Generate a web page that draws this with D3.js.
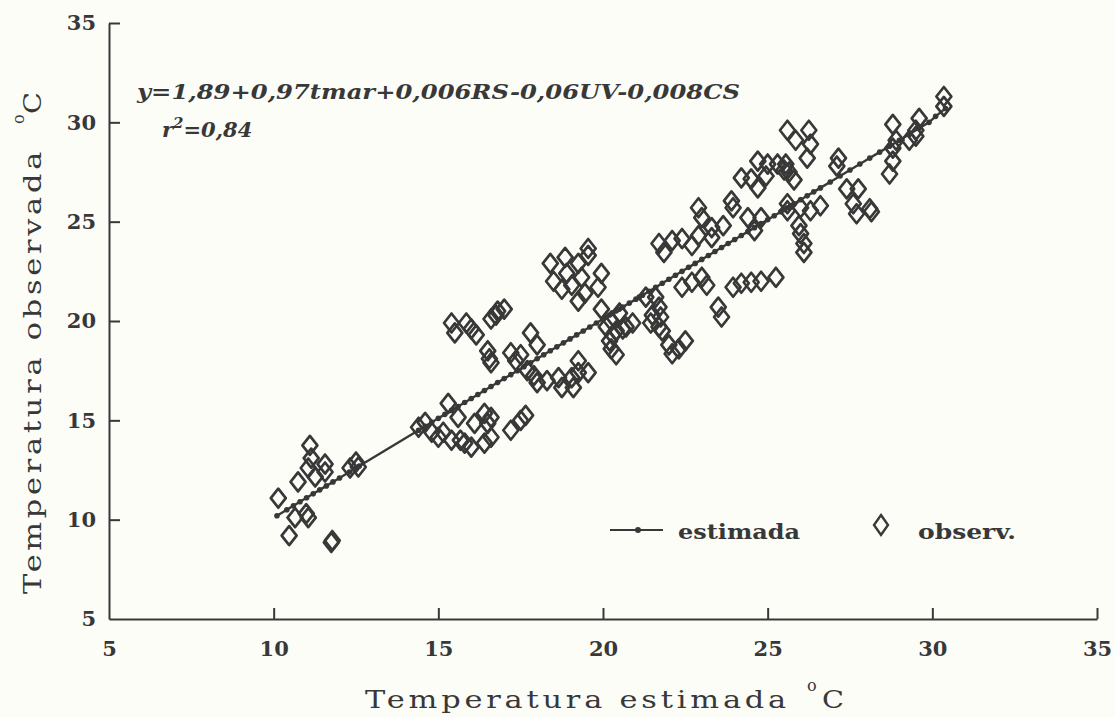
<!DOCTYPE html>
<html><head><meta charset="utf-8">
<script src="https://cdn.jsdelivr.net/npm/d3@7"></script>
<style>
html,body{margin:0;padding:0;background:#fdfdf8;}
svg{display:block;}
text{fill:#383838;}
</style></head>
<body>
<svg id="chart" width="1115" height="717"></svg>
<script>
const xTicks = [5,10,15,20,25,30,35];
const yTicks = [5,10,15,20,25,30,35];
const xTitle = "Temperatura estimada";
const yTitle = "Temperatura observada";
const equation = "y=1,89+0,97tmar+0,006RS-0,06UV-0,008CS";
const r2Label = "=0,84";
const legendLabels = ["estimada","observ."];

// observed points (x = estimated, y = observed)
const obsX = [11.1,11.14,11.05,11.26,11.56,11.56,10.74,10.14,10.65,10.99,11.05,10.47,11.75,11.78,12.32,12.5,12.57,
14.4,14.6,14.8,15.0,15.15,15.3,15.6,15.4,15.67,15.8,16.0,16.1,16.4,16.5,16.6,16.4,16.6,17.2,17.5,17.65,
15.4,15.5,15.85,16.0,16.15,16.6,16.75,16.5,16.55,16.6,16.8,17.0,17.2,17.35,17.5,17.8,18.0,17.7,17.9,18.0,18.3,18.65,18.75,19.05,19.25,19.25,19.55,19.1,
18.4,18.5,18.85,18.9,19.05,18.75,19.25,19.35,19.55,19.55,19.45,19.25,19.85,19.95,19.95,
20.25,20.1,20.4,20.7,20.9,20.5,20.2,20.25,20.4,20.3,20.6,
21.3,21.6,21.7,21.5,21.75,21.45,21.7,21.8,22.0,22.1,22.3,22.5,22.4,22.7,23.0,23.15,21.7,21.85,22.1,22.4,22.7,22.9,23.3,23.5,23.6,23.95,24.2,24.5,24.8,25.25,
22.9,23.0,23.3,23.65,23.9,23.95,24.2,24.5,24.7,24.7,24.95,25.0,25.3,25.55,25.5,25.65,25.6,25.85,26.25,26.3,26.2,25.8,24.4,24.6,24.8,25.6,25.6,26.0,26.3,26.6,25.95,26.0,26.1,26.1,
27.15,27.1,27.4,27.75,27.6,27.7,28.1,28.15,28.8,28.9,28.8,28.7,29.3,29.5,29.6,29.5,28.8,30.35,30.35];
const obsY = [13.74,13.1,12.6,12.15,12.8,12.4,11.9,11.08,10.1,10.3,10.1,9.2,8.85,8.95,12.6,12.9,12.65,
14.65,14.9,14.4,14.15,14.4,15.85,15.15,14.0,14.0,13.85,13.65,14.85,15.35,14.85,15.15,13.85,14.15,14.5,15.0,15.25,
19.9,19.4,19.9,19.6,19.3,20.1,20.3,18.5,18.1,17.9,20.5,20.6,18.4,18.0,18.3,19.4,18.8,17.5,17.25,16.9,17.0,17.15,16.65,17.15,17.4,18.0,17.4,16.65,
22.9,22.0,23.2,22.4,21.8,21.6,22.9,22.2,23.65,23.3,21.4,21.0,21.7,22.4,20.6,
20.0,19.7,19.5,19.7,19.9,20.4,19.0,18.6,18.3,19.3,19.6,
21.2,21.2,20.7,20.3,20.2,19.9,19.7,19.5,18.8,18.35,18.6,19.0,21.7,21.95,22.2,21.8,23.9,23.45,24.05,24.15,23.8,24.3,24.2,20.7,20.2,21.7,21.9,21.95,22.0,22.2,
25.7,25.2,24.7,24.8,26.05,25.7,27.2,27.15,26.7,28.05,27.3,27.9,27.9,27.9,27.6,27.5,29.6,29.1,29.6,28.9,28.2,27.1,25.2,24.55,25.2,25.9,25.55,25.7,25.55,25.8,24.8,24.4,23.9,23.45,
28.2,27.8,26.65,26.65,25.9,25.4,25.65,25.5,29.9,29.1,28.05,27.4,29.1,29.6,30.2,29.3,28.7,31.3,30.8];

// estimated (model) points
const estX = [10.1,10.4,10.6,10.8,11.0,11.2,11.4,11.6,11.8,12.0,12.3,12.5,12.6,14.4,14.6,14.8,15.0,15.2,15.4,15.6,15.8,16.0,16.2,16.4,16.6,16.8,17.0,17.2,17.4,17.6,17.8,18.0,18.2,18.4,18.6,18.8,19.0,19.2,19.4,19.6,19.8,20.0,20.1,20.2,20.3,20.4,20.5,20.6,20.8,21.0,21.1,21.2,21.4,21.6,21.8,22.0,22.2,22.4,22.6,22.8,23.0,23.2,23.4,23.6,23.8,24.0,24.2,24.4,24.6,24.8,25.0,25.2,25.4,25.5,25.6,25.7,25.8,26.0,26.2,26.4,26.6,26.9,27.2,27.5,27.8,28.1,28.4,28.7,29.0,29.3,29.6,29.9,30.1,30.4];
const estY = [10.2,10.5,10.7,10.9,11.1,11.3,11.5,11.7,11.9,12.1,12.4,12.6,12.7,14.5,14.7,14.9,15.1,15.3,15.5,15.7,15.9,16.1,16.3,16.5,16.7,16.9,17.1,17.3,17.5,17.7,17.9,18.1,18.3,18.5,18.7,18.9,19.1,19.3,19.5,19.7,19.9,20.1,20.2,20.3,20.4,20.5,20.6,20.7,20.9,21.1,21.2,21.3,21.5,21.7,21.9,22.1,22.3,22.5,22.7,22.9,23.1,23.3,23.5,23.7,23.9,24.1,24.3,24.5,24.7,24.9,25.1,25.3,25.5,25.6,25.7,25.8,25.9,26.1,26.3,26.5,26.7,27.0,27.3,27.6,27.9,28.2,28.5,28.8,29.1,29.4,29.7,30.0,30.3,30.7];

const svg = d3.select("#chart");
const ink = "#383838";
const serif = "'DejaVu Serif', serif";
const x = d3.scaleLinear().domain([5,35]).range([109,1097]);
const y = d3.scaleLinear().domain([5,35]).range([619,23]);

// axes
const xAxis = d3.axisBottom(x).tickValues(xTicks).tickSizeInner(-11).tickSizeOuter(0).tickPadding(22).tickFormat(d3.format("d"));
const gx = svg.append("g").attr("transform","translate(0,"+y(5)+")").call(xAxis);
const yAxis = d3.axisLeft(y).tickValues(yTicks.slice(1)).tickSizeInner(-11).tickSizeOuter(0).tickPadding(13).tickFormat(d3.format("d"));
const gy = svg.append("g").attr("transform","translate("+x(5)+",0)").call(yAxis);
[gx,gy].forEach(g=>{
  g.select(".domain").attr("stroke",ink).attr("stroke-width",2);
  g.selectAll(".tick line").attr("stroke",ink).attr("stroke-width",2);
  g.selectAll(".tick text").attr("fill",ink).style("font-family",serif).style("font-weight","bold").style("font-size","21px");
});
gx.selectAll(".tick").filter(d=>d===5).select("line").remove();
svg.append("text").attr("x",x(5)-13).attr("y",y(5)+7).attr("text-anchor","end")
  .style("font-family",serif).style("font-weight","bold").style("font-size","21px").text(yTicks[0]);

// regression / estimated line
const line = d3.line().x(d=>x(d[0])).y(d=>y(d[1]));
const est = estX.map((v,i)=>[v,estY[i]]);
svg.append("path").datum(est).attr("d",line).attr("fill","none").attr("stroke",ink).attr("stroke-width",2.4);
svg.append("g").selectAll("circle").data(est).join("circle")
  .attr("cx",d=>x(d[0])).attr("cy",d=>y(d[1])).attr("r",2.8).attr("fill",ink);

// observed diamonds
const dw = 7.5, dh = 9.5;
const diamond = `M0,${-dh}L${dw},0L0,${dh}L${-dw},0Z`;
svg.append("g").selectAll("path").data(obsX.map((v,i)=>[v,obsY[i]])).join("path")
  .attr("d",diamond).attr("transform",d=>`translate(${x(d[0])},${y(d[1])})`)
  .attr("fill","none").attr("stroke",ink).attr("stroke-width",2.7).attr("stroke-linejoin","round");

// equation
svg.append("text").attr("x",137).attr("y",99).attr("textLength",603).attr("lengthAdjust","spacingAndGlyphs")
  .style("font-family",serif).style("font-style","italic").style("font-weight","bold").style("font-size","21px")
  .text(equation);
const r2 = svg.append("text").attr("x",162).attr("y",137)
  .style("font-family",serif).style("font-style","italic").style("font-weight","bold").style("font-size","21px");
r2.append("tspan").text("r");
r2.append("tspan").attr("dy",-9).style("font-size","15px").text("2");
r2.append("tspan").attr("dy",9).text(r2Label);

// axis titles
const titleStyle = t => t.style("font-family",serif).style("font-size","24px").style("letter-spacing","3px");
svg.append("text").attr("x",365).attr("y",708).attr("textLength",425).attr("lengthAdjust","spacingAndGlyphs")
  .call(titleStyle).text(xTitle);
svg.append("text").attr("x",807).attr("y",691).style("font-family",serif).style("font-size","16px").text("o");
svg.append("text").attr("x",822).attr("y",708).attr("textLength",22).attr("lengthAdjust","spacingAndGlyphs")
  .style("font-family",serif).style("font-size","24px").text("C");

const yt = svg.append("g").attr("transform","translate(41,594) rotate(-90)");
yt.append("text").attr("x",0).attr("y",0).attr("textLength",446).attr("lengthAdjust","spacingAndGlyphs")
  .call(titleStyle).text(yTitle);
yt.append("text").attr("x",470).attr("y",-17).style("font-family",serif).style("font-size","16px").text("o");
yt.append("text").attr("x",480).attr("y",0).attr("textLength",22).attr("lengthAdjust","spacingAndGlyphs")
  .style("font-family",serif).style("font-size","24px").text("C");

// legend
const lg = svg.append("g");
lg.append("line").attr("x1",610).attr("x2",663).attr("y1",530).attr("y2",530).attr("stroke",ink).attr("stroke-width",2);
lg.append("circle").attr("cx",638).attr("cy",530).attr("r",3).attr("fill",ink);
lg.append("text").attr("x",678).attr("y",539).attr("textLength",122).attr("lengthAdjust","spacingAndGlyphs")
  .style("font-family",serif).style("font-weight","bold").style("font-size","21px").text(legendLabels[0]);
lg.append("path").attr("d","M0,-10L7,0L0,10L-7,0Z").attr("transform","translate(881,525)").attr("fill","none").attr("stroke",ink).attr("stroke-width",2.4);
lg.append("text").attr("x",918).attr("y",539).attr("textLength",98).attr("lengthAdjust","spacingAndGlyphs")
  .style("font-family",serif).style("font-weight","bold").style("font-size","21px").text(legendLabels[1]);
</script>
</body></html>
